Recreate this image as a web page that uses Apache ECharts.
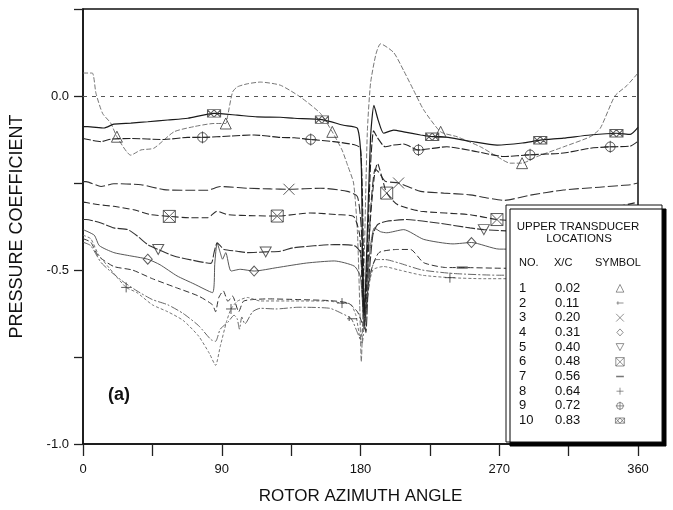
<!DOCTYPE html>
<html>
<head>
<meta charset="utf-8">
<script src="https://cdn.jsdelivr.net/npm/echarts@6/dist/echarts.min.js"></script>
<style>
  html, body { margin: 0; padding: 0; background: #fff; }
  #chart { width: 673px; height: 510px; }
</style>
</head>
<body>
<div id="chart"></div>
<script>
// Upper-surface pressure coefficient vs rotor azimuth, ten chordwise transducers.
// Each curve: [azimuth (deg), Cp]
const cp1 = [[0,0.066],[6,0.066],[8.4,0.008],[12.7,-0.05],[18,-0.078],[22,-0.117],[31,-0.17],[37.6,-0.155],[46,-0.15],[59,-0.103],[72,-0.088],[85,-0.079],[92.6,-0.079],[93.7,-0.06],[97,0.011],[100,0.026],[106.6,0.035],[115,0.04],[128,0.031],[141,-0.003],[154,-0.05],[161.7,-0.103],[168,-0.155],[171.7,-0.2],[175.5,-0.25],[178,-0.39],[179.5,-0.6],[180.5,-0.764],[182,-0.55],[184.4,-0.107],[186.5,0.036],[190,0.12],[193,0.15],[201.5,0.125],[208,0.073],[214.5,0.016],[221,-0.04],[232,-0.103],[242.6,-0.117],[257.8,-0.146],[268.6,-0.174],[277,-0.193],[284.8,-0.193],[294.5,-0.174],[311.8,-0.146],[329,-0.117],[335.5,-0.093],[345,0],[352.8,0.03],[360,0.066]];
const cp2 = [[0,-0.42],[5,-0.43],[12,-0.48],[25,-0.53],[35,-0.56],[45,-0.585],[55,-0.6],[65,-0.625],[75,-0.66],[83,-0.7],[86,-0.705],[89,-0.67],[94,-0.65],[98,-0.63],[100,-0.64],[101.5,-0.67],[103,-0.635],[105,-0.655],[110,-0.62],[115,-0.61],[125,-0.612],[140,-0.607],[160,-0.61],[168,-0.625],[174,-0.64],[178,-0.68],[181,-0.71],[183,-0.62],[186,-0.52],[190,-0.47],[196,-0.47],[205,-0.48],[220,-0.5],[240,-0.51],[270,-0.515],[300,-0.51],[330,-0.48],[360,-0.42]];
const cp3 = [[0,-0.246],[2,-0.246],[11.7,-0.26],[20,-0.252],[37.6,-0.255],[52.5,-0.269],[68,-0.271],[80.7,-0.271],[89,-0.26],[106.6,-0.265],[121.8,-0.267],[133.6,-0.268],[154,-0.265],[171.4,-0.274],[178,-0.289],[180.5,-0.38],[182,-0.55],[183,-0.64],[184.5,-0.5],[187,-0.3],[189.5,-0.21],[192,-0.22],[196,-0.245],[204.7,-0.25],[219,-0.274],[234,-0.279],[251,-0.284],[262,-0.293],[273,-0.3],[290,-0.285],[311.6,-0.27],[335,-0.262],[355,-0.255],[360,-0.25]];
const cp4 = [[0,-0.384],[7.3,-0.4],[10.6,-0.43],[20,-0.45],[29,-0.458],[42,-0.469],[50,-0.485],[61,-0.517],[72,-0.54],[84,-0.565],[85.5,-0.48],[87,-0.422],[89,-0.45],[90.5,-0.469],[92.6,-0.45],[96,-0.503],[102,-0.498],[111,-0.503],[126,-0.493],[145,-0.48],[163,-0.474],[176,-0.489],[180,-0.52],[182.5,-0.67],[184,-0.6],[186,-0.45],[189,-0.379],[193,-0.39],[197,-0.393],[208,-0.384],[221,-0.412],[240,-0.425],[252,-0.421],[270,-0.44],[300,-0.44],[330,-0.42],[360,-0.384]];
const cp5 = [[0,-0.355],[2,-0.355],[11.7,-0.365],[20,-0.379],[29,-0.384],[35.4,-0.403],[42,-0.427],[48.8,-0.441],[59,-0.46],[70,-0.471],[83,-0.481],[85,-0.45],[87,-0.422],[89,-0.43],[91.5,-0.441],[100,-0.446],[106.6,-0.45],[118.5,-0.448],[128,-0.446],[136.7,-0.436],[163,-0.427],[176,-0.43],[180,-0.45],[182,-0.62],[183.5,-0.68],[185,-0.55],[188,-0.4],[191,-0.37],[197,-0.36],[210,-0.355],[230,-0.365],[251,-0.379],[260,-0.384],[290,-0.39],[320,-0.38],[345,-0.365],[360,-0.355]];
const cp6 = [[0,-0.305],[2,-0.306],[9.5,-0.312],[20,-0.317],[33,-0.327],[44,-0.341],[56,-0.346],[70,-0.35],[80.7,-0.35],[87,-0.331],[93.7,-0.341],[111,-0.344],[126,-0.345],[147.7,-0.336],[165,-0.341],[175.5,-0.346],[179.5,-0.4],[181.5,-0.6],[182.5,-0.66],[184,-0.55],[186.5,-0.35],[189,-0.23],[191,-0.193],[194,-0.235],[197,-0.279],[204,-0.312],[219,-0.331],[251,-0.341],[268.5,-0.355],[290,-0.36],[320,-0.35],[345,-0.32],[360,-0.305]];
const cp7 = [[0,-0.41],[5,-0.42],[10,-0.46],[20,-0.49],[32,-0.5],[45,-0.525],[60,-0.55],[75,-0.575],[84,-0.6],[86,-0.62],[88,-0.58],[91,-0.56],[94,-0.59],[97,-0.575],[101,-0.62],[104,-0.59],[110,-0.585],[120,-0.583],[140,-0.585],[160,-0.588],[172,-0.595],[178,-0.62],[182,-0.66],[184,-0.6],[187,-0.5],[192,-0.45],[204,-0.441],[212.4,-0.441],[221,-0.479],[236,-0.493],[246,-0.493],[273,-0.495],[300,-0.49],[330,-0.46],[360,-0.41]];
const cp8 = [[0,-0.4],[5,-0.41],[10,-0.455],[20,-0.51],[28,-0.55],[35,-0.565],[45,-0.6],[55,-0.62],[65,-0.645],[75,-0.69],[82,-0.74],[86,-0.774],[89,-0.72],[93,-0.65],[96,-0.612],[100,-0.59],[106.6,-0.579],[115,-0.589],[137,-0.589],[158.5,-0.589],[168,-0.595],[173.6,-0.598],[177,-0.63],[180,-0.7],[181.5,-0.66],[184,-0.58],[188,-0.5],[195,-0.49],[205,-0.5],[220,-0.515],[238,-0.522],[260,-0.525],[280,-0.525],[300,-0.52],[330,-0.48],[350,-0.43],[360,-0.4]];
const cp9 = [[0,-0.122],[11.7,-0.131],[18,-0.124],[31,-0.122],[52.5,-0.125],[68,-0.119],[77.5,-0.119],[96,-0.115],[111,-0.112],[128,-0.119],[137,-0.12],[147.7,-0.125],[162.6,-0.131],[176,-0.14],[180,-0.15],[181.5,-0.35],[182.5,-0.63],[184,-0.5],[186.5,-0.2],[188.5,-0.1],[191,-0.12],[196,-0.146],[201.5,-0.141],[208,-0.138],[217.6,-0.155],[236,-0.146],[255.6,-0.16],[273,-0.174],[290,-0.169],[311.6,-0.164],[329,-0.15],[342,-0.146],[355,-0.144],[360,-0.13]];
const cp10 = [[0,-0.088],[3,-0.088],[13.7,-0.092],[20,-0.081],[31,-0.078],[42,-0.074],[55,-0.069],[68,-0.064],[85,-0.05],[100,-0.055],[113,-0.06],[128,-0.061],[137,-0.064],[155,-0.068],[169,-0.084],[178,-0.093],[180.5,-0.2],[181.5,-0.55],[182.5,-0.62],[184,-0.45],[186.5,-0.12],[188.7,-0.027],[191.5,-0.07],[195,-0.107],[201.5,-0.098],[208,-0.103],[219,-0.112],[226.5,-0.117],[232,-0.117],[251,-0.13],[268.6,-0.141],[285,-0.135],[296.6,-0.127],[311.6,-0.121],[329,-0.112],[346,-0.107],[355,-0.11],[360,-0.09]];

// Plotted symbol positions on each curve
const mk1 = [[22,-0.117],[92.6,-0.079],[161.7,-0.103],[232,-0.103],[284.8,-0.193]];
const mk2 = [[174.6,-0.64]];
const mk3 = [[133.6,-0.268],[204.7,-0.25]];
const mk4 = [[42,-0.469],[111,-0.503],[252,-0.421]];
const mk5 = [[48.8,-0.441],[118.5,-0.448],[260,-0.384]];
const mk6 = [[56,-0.346],[126,-0.345],[197,-0.279],[268.5,-0.355]];
const mk7 = [[246,-0.493]];
const mk8 = [[28,-0.55],[96,-0.612],[168,-0.595],[238,-0.522]];
const mk9 = [[77.5,-0.119],[147.7,-0.125],[217.6,-0.155],[290,-0.169],[342,-0.146]];
const mk10 = [[85,-0.05],[155,-0.068],[226.5,-0.117],[296.6,-0.127],[346,-0.107]];

// Legend table
const legendNo = ['1','2','3','4','5','6','7','8','9','10'];
const legendXC = ['0.02','0.11','0.20','0.31','0.40','0.48','0.56','0.64','0.72','0.83'];

const xTickLabels = [0, 90, 180, 270, 360];
const yTickLabels = [-1.0, -0.5, 0.0];

const SYM = {
  tri: 'path://M5,0L10,10L0,10Z',
  tee: 'path://M0,5L10,5M2,2L2,8',
  cross: 'path://M0,0L10,10M10,0L0,10',
  dia: 'path://M5,0L10,5L5,10L0,5Z',
  boxX: 'path://M0,0L10,0L10,10L0,10ZM0,0L10,10M10,0L0,10',
  dash: 'path://M0,4L10,4L10,6L0,6Z',
  plus: 'path://M5,0L5,10M0,5L10,5',
  oplus: 'path://M9,5A4,4 0 1 1 1,5A4,4 0 1 1 9,5ZM5,0L5,10M0,5L10,5',
  box2X: 'path://M0,0L12,0L12,9L0,9ZM0,0L6,9M6,0L0,9M6,0L12,9M12,0L6,9'
};

const curves = [
  { d: cp1,  m: mk1,  sym: SYM.tri,   rot: 0,   size: [11,11], color: '#666', type: [5,2],     w: 0.9 },
  { d: cp2,  m: mk2,  sym: SYM.tee,   rot: 0,   size: [10,8],  color: '#555', type: [8,2,2,2], w: 0.9 },
  { d: cp3,  m: mk3,  sym: SYM.cross, rot: 0,   size: [11,11], color: '#333', type: [10,3],    w: 1.1 },
  { d: cp4,  m: mk4,  sym: SYM.dia,   rot: 0,   size: [9,10],  color: '#444', type: 'solid',   w: 0.9 },
  { d: cp5,  m: mk5,  sym: SYM.tri,   rot: 180, size: [11,10], color: '#333', type: [10,2],    w: 1.1 },
  { d: cp6,  m: mk6,  sym: SYM.boxX,  rot: 0,   size: [12,12], color: '#2a2a2a', type: [7,3],  w: 1.1 },
  { d: cp7,  m: mk7,  sym: SYM.dash,  rot: 0,   size: [11,11], color: '#333', type: [6,3],     w: 1 },
  { d: cp8,  m: mk8,  sym: SYM.plus,  rot: 0,   size: [10,10], color: '#666', type: [3,2],     w: 0.9 },
  { d: cp9,  m: mk9,  sym: SYM.oplus, rot: 0,   size: [12,12], color: '#222', type: [8,2],     w: 1.1 },
  { d: cp10, m: mk10, sym: SYM.box2X, rot: 0,   size: [13,10], color: '#1a1a1a', type: 'solid', w: 1.2 }
];

const FONT = '"Liberation Sans", Arial, Helvetica, sans-serif';
const chart = echarts.init(document.getElementById('chart'), null, { renderer: 'canvas' });

const series = [];
curves.forEach((c, i) => {
  const s = {
    type: 'line', xAxisIndex: 0, yAxisIndex: 0, z: 2,
    data: c.d, showSymbol: false, smooth: 0.2, silent: true,
    lineStyle: { color: c.color, width: c.w, type: c.type }
  };
  if (i === 0) {
    s.markLine = {
      silent: true, symbol: 'none', label: { show: false },
      lineStyle: { color: '#555', width: 1, type: [4, 5] },
      data: [{ yAxis: 0 }]
    };
  }
  series.push(s);
  const isDash = c.sym === SYM.dash;
  series.push({
    type: 'scatter', xAxisIndex: 0, yAxisIndex: 0, z: 3, silent: true,
    data: c.m, symbol: c.sym, symbolRotate: c.rot, symbolSize: c.size, symbolKeepAspect: true,
    itemStyle: { color: isDash ? '#333' : 'rgba(0,0,0,0)', borderColor: '#333', borderWidth: isDash ? 0 : 1 }
  });
});

// Legend symbol column, one row per transducer
series.push({
  type: 'scatter', xAxisIndex: 1, yAxisIndex: 1, z: 120, silent: true, symbolKeepAspect: true,
  data: curves.map((c, i) => {
    const isDash = c.sym === SYM.dash;
    return {
      value: [0, i + 1], symbol: c.sym, symbolRotate: c.rot,
      symbolSize: [c.size[0] * 0.7, c.size[1] * 0.7],
      itemStyle: { color: isDash ? '#555' : 'rgba(0,0,0,0)', borderColor: '#555', borderWidth: isDash ? 0 : 0.8 }
    };
  })
});

const LX = 506, LY = 205, LW = 156, LH = 237;
const rowY0 = 288.3, rowStep = 14.7;
const graphics = [
  { type: 'rect', z: 100, shape: { x: LX, y: LY, width: LW, height: LH },
    style: { fill: '#fff', stroke: '#111', lineWidth: 1, shadowColor: '#000', shadowBlur: 0, shadowOffsetX: 4, shadowOffsetY: 4 } },
  { type: 'text', z: 101, style: { text: 'UPPER TRANSDUCER', x: 578, y: 227, align: 'center', verticalAlign: 'middle', font: '11.5px ' + FONT, fill: '#111' } },
  { type: 'text', z: 101, style: { text: 'LOCATIONS', x: 579, y: 239, align: 'center', verticalAlign: 'middle', font: '11.5px ' + FONT, fill: '#111' } },
  { type: 'text', z: 101, style: { text: 'NO.', x: 519, y: 263, align: 'left', verticalAlign: 'middle', font: '11px ' + FONT, fill: '#111' } },
  { type: 'text', z: 101, style: { text: 'X/C', x: 554, y: 263, align: 'left', verticalAlign: 'middle', font: '11px ' + FONT, fill: '#111' } },
  { type: 'text', z: 101, style: { text: 'SYMBOL', x: 595, y: 263, align: 'left', verticalAlign: 'middle', font: '11px ' + FONT, fill: '#111' } },
  { type: 'text', z: 10, style: { text: '(a)', x: 108, y: 395, align: 'left', verticalAlign: 'middle', font: 'bold 18px ' + FONT, fill: '#111' } }
];
legendNo.forEach((n, i) => {
  const y = rowY0 + i * rowStep;
  graphics.push({ type: 'text', z: 101, style: { text: n, x: 519, y: y, align: 'left', verticalAlign: 'middle', font: '13px ' + FONT, fill: '#111' } });
  graphics.push({ type: 'text', z: 101, style: { text: legendXC[i], x: 555, y: y, align: 'left', verticalAlign: 'middle', font: '13px ' + FONT, fill: '#111' } });
});

chart.setOption({
  animation: false,
  backgroundColor: '#fff',
  textStyle: { fontFamily: FONT },
  grid: [
    { left: 82, right: 35, top: 9, bottom: 64, show: true, borderColor: '#111', borderWidth: 1.5, backgroundColor: 'transparent' },
    { left: 600, width: 40, top: rowY0, height: rowStep * 9, show: false }
  ],
  xAxis: [
    {
      type: 'value', gridIndex: 0, min: 0, max: 360, interval: 45,
      name: 'ROTOR AZIMUTH ANGLE', nameLocation: 'middle', nameGap: 44,
      nameTextStyle: { fontSize: 17, color: '#111', fontFamily: FONT },
      axisLine: { onZero: false, lineStyle: { color: '#111', width: 1.5 } },
      axisTick: { inside: false, length: 12, lineStyle: { color: '#222', width: 1.3 } },
      axisLabel: { margin: 19, fontSize: 13, color: '#111', fontFamily: FONT,
        formatter: v => xTickLabels.includes(v) ? String(v) : '' },
      splitLine: { show: false }
    },
    { type: 'value', gridIndex: 1, min: -1, max: 1, show: false }
  ],
  yAxis: [
    {
      type: 'value', gridIndex: 0, min: -1, max: 0.25, interval: 0.25,
      name: 'PRESSURE COEFFICIENT', nameLocation: 'middle', nameGap: 57, nameRotate: 90,
      nameTextStyle: { fontSize: 18, color: '#111', fontFamily: FONT },
      axisLine: { onZero: false, lineStyle: { color: '#111', width: 1.5 } },
      axisTick: { inside: false, length: 9, lineStyle: { color: '#222', width: 1.3 } },
      axisLabel: { margin: 14, fontSize: 13, color: '#111', fontFamily: FONT,
        formatter: v => yTickLabels.some(t => Math.abs(t - v) < 1e-9) ? v.toFixed(1) : '' },
      splitLine: { show: false }
    },
    { type: 'value', gridIndex: 1, min: 1, max: 10, inverse: true, show: false }
  ],
  graphic: graphics,
  series: series
});
</script>
</body>
</html>
